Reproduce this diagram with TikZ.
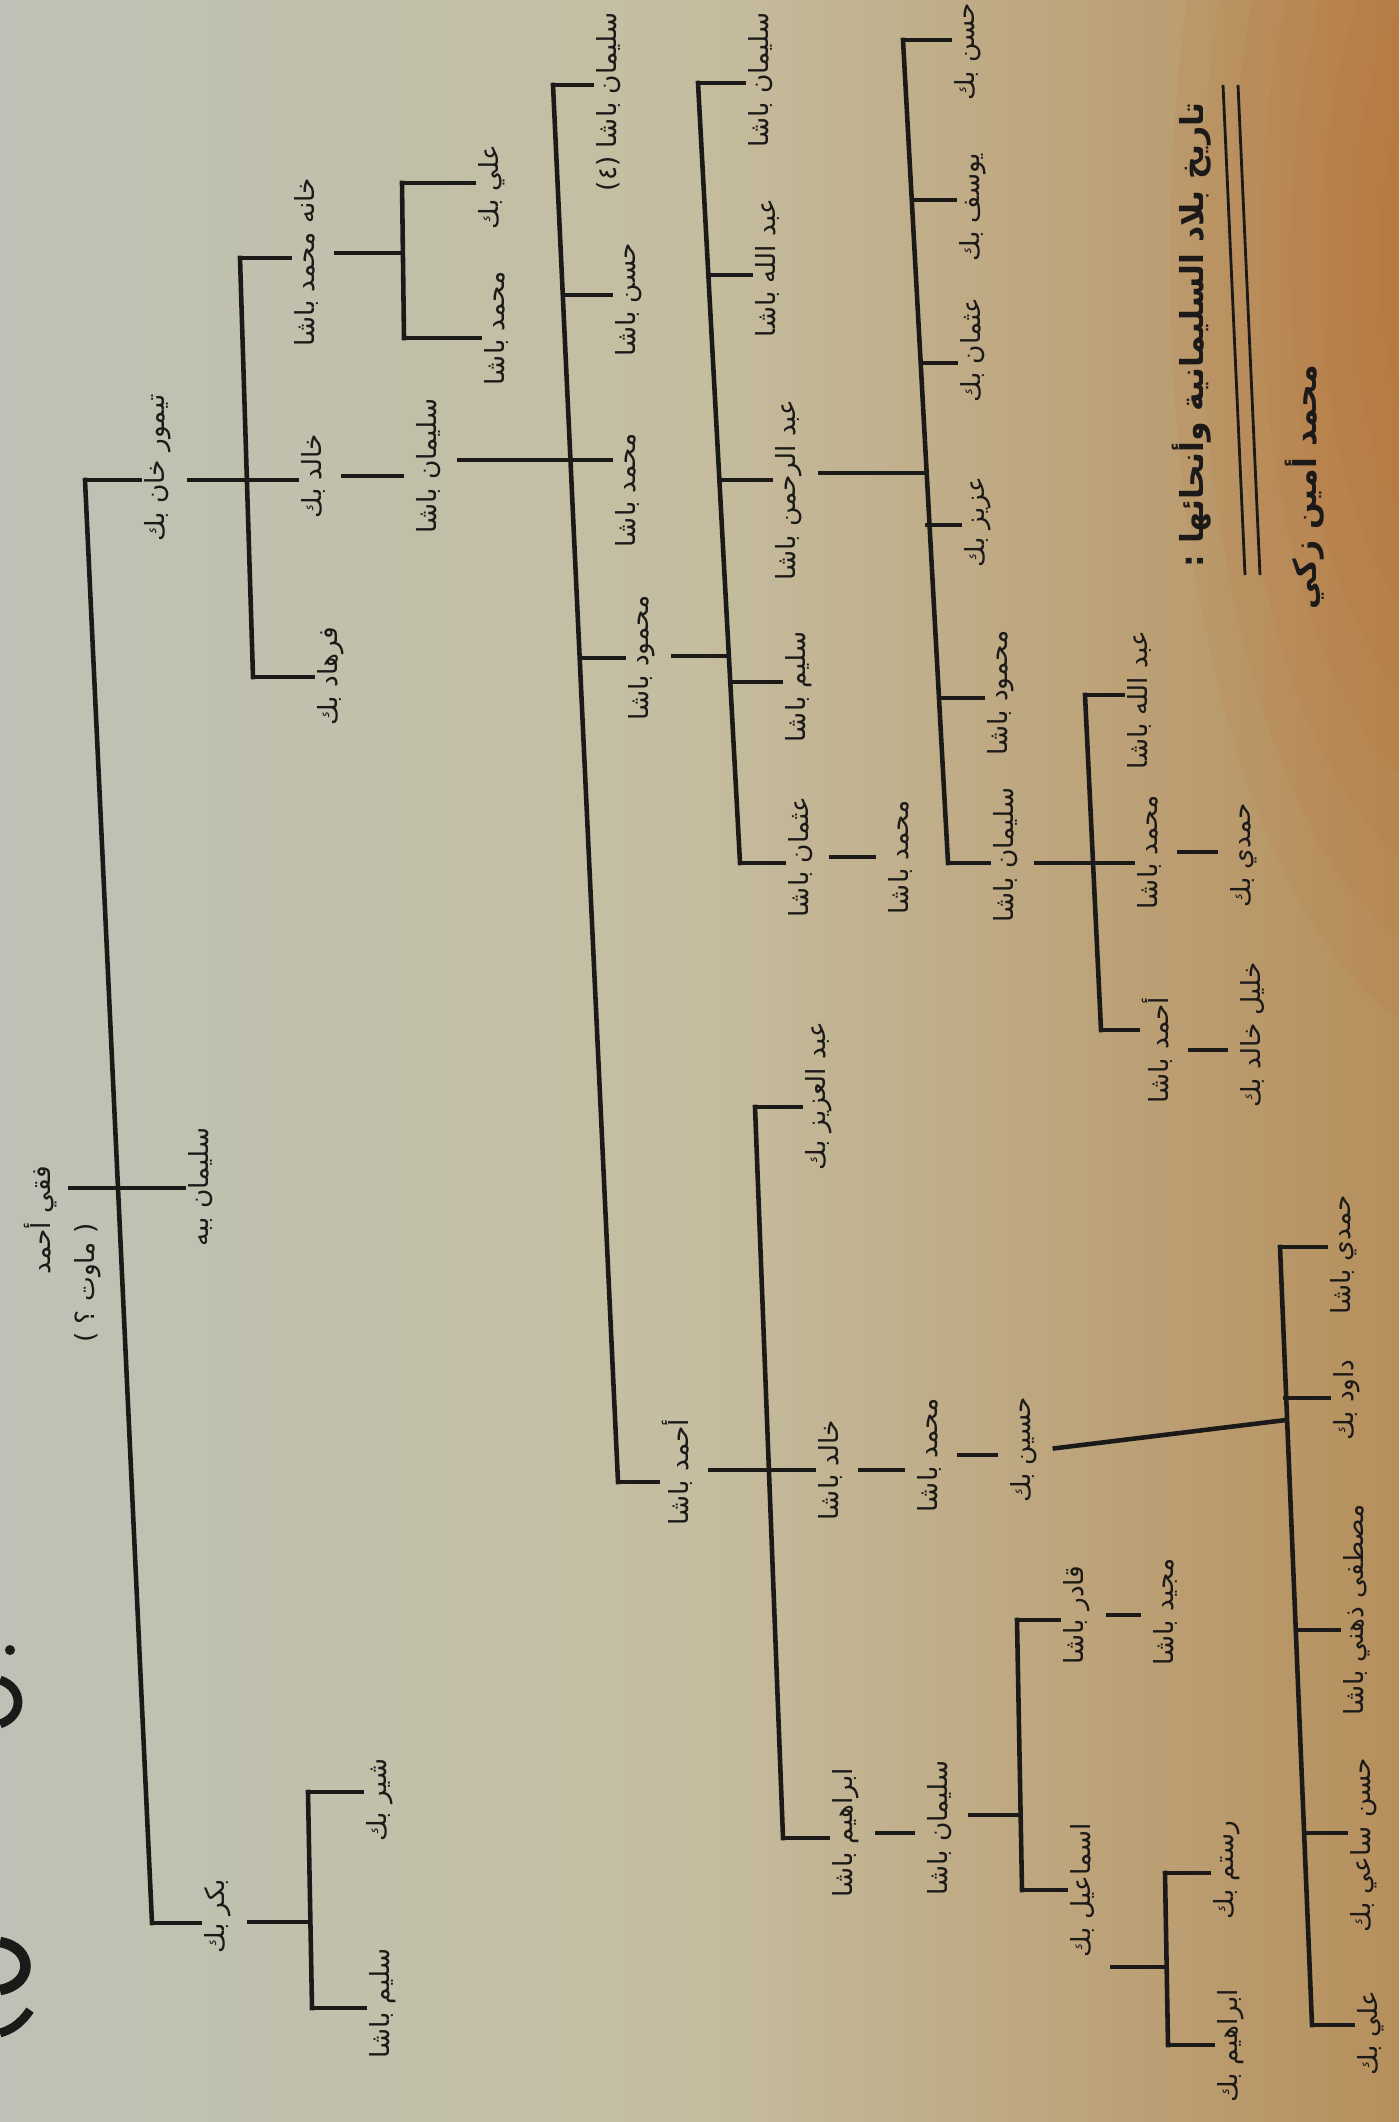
\documentclass[tikz,border=0pt]{standalone}
\usepackage{fontspec}
\newfontfamily\arabicfont[Script=Arabic]{DejaVu Sans}
\TeXXeTstate=1
\definecolor{ink}{RGB}{28,26,24}
\definecolor{bgL}{RGB}{190,194,182}
\definecolor{bgM}{RGB}{197,189,160}
\definecolor{bgR}{RGB}{182,143,92}
\definecolor{warm}{RGB}{196,100,36}
\begin{document}
\begin{tikzpicture}[x=0.01cm,y=-0.01cm,
  ln/.style={line width=1.3pt,draw=ink,line cap=rect},
  up/.style={ln,shorten <=4pt},
  tick/.style={ln,shorten <=4pt,shorten >=3pt},
  nm/.style={rotate=90,anchor=north,inner sep=1pt,text=ink,font=\arabicfont\fontsize{7.5}{9}\selectfont},
  ttl/.style={rotate=90,inner sep=0pt,text=ink,font=\arabicfont\bfseries\fontsize{9}{11}\selectfont}]
\useasboundingbox (0,0) rectangle (1399,2122);
\clip (0,0) rectangle (1399,2122);
% paper
\shade[left color=bgL,right color=bgR,middle color=bgM] (0,0) rectangle (1399,2122);
\foreach \r in {30,60,...,300}
  \fill[warm,opacity=0.07] (1470,260) ellipse [x radius=\r, y radius=2.6*\r];
% partial heading glyphs at the left edge
\fill[ink] (10,1650) circle (5);
\draw[ink,line width=2.5pt] (0,1680) .. controls (24,1688) and (24,1716) .. (0,1724);
\draw[ink,line width=3pt] (0,1942) .. controls (34,1948) and (34,1984) .. (0,1990);
\draw[ink,line width=2.5pt] (30,2010) .. controls (20,2025) and (10,2030) .. (0,2033);

% ---------- names ----------
\node[nm] (root) at (20,1220) {\beginR فقي أحمد\endR};
\node[nm] (mawat) at (70,1283) {\beginR ( ماوت ؟ )\endR};
\node[nm] (timur) at (140,468) {\beginR تيمور خان بك\endR};
\node[nm] (sulbeb) at (184,1187) {\beginR سليمان ببه\endR};
\node[nm] (bakr) at (200,1916) {\beginR بكر بك\endR};
\node[nm] (shir) at (362,1800) {\beginR شير بك\endR};
\node[nm] (salim) at (365,2003) {\beginR سليم باشا\endR};
\node[nm] (khanah) at (290,262) {\beginR خانه محمد باشا\endR};
\node[nm] (khalid) at (297,476) {\beginR خالد بك\endR};
\node[nm] (farhad) at (313,676) {\beginR فرهاد بك\endR};
\node[nm] (ali1) at (474,187) {\beginR علي بك\endR};
\node[nm] (muh1) at (480,328) {\beginR محمد باشا\endR};
\node[nm] (sul1) at (412,466) {\beginR سليمان باشا\endR};
\node[nm] (sul4) at (592,102) {\beginR سليمان باشا (٤)\endR};
\node[nm] (hasan1) at (611,300) {\beginR حسن باشا\endR};
\node[nm] (muh2) at (611,490) {\beginR محمد باشا\endR};
\node[nm] (mahmud) at (624,658) {\beginR محمود باشا\endR};
\node[nm] (ahmad1) at (658,1472) {\beginR أحمد باشا\endR};
\node[nm] (sul5) at (744,80) {\beginR سليمان باشا\endR};
\node[nm] (abdallah1) at (751,268) {\beginR عبد الله باشا\endR};
\node[nm] (abdrahman) at (771,490) {\beginR عبد الرحمن باشا\endR};
\node[nm] (salim2) at (781,687) {\beginR سليم باشا\endR};
\node[nm] (uthman1) at (784,857) {\beginR عثمان باشا\endR};
\node[nm] (muh3) at (884,857) {\beginR محمد باشا\endR};
\node[nm] (hasan2) at (950,52) {\beginR حسن بك\endR};
\node[nm] (yusuf) at (955,207) {\beginR يوسف بك\endR};
\node[nm] (uthman2) at (956,350) {\beginR عثمان بك\endR};
\node[nm] (aziz) at (960,522) {\beginR عزيز بك\endR};
\node[nm] (mahmud2) at (983,693) {\beginR محمود باشا\endR};
\node[nm] (sul6) at (989,855) {\beginR سليمان باشا\endR};
\node[nm] (abdallah2) at (1123,700) {\beginR عبد الله باشا\endR};
\node[nm] (muh4) at (1133,852) {\beginR محمد باشا\endR};
\node[nm] (hamdi1) at (1226,855) {\beginR حمدي بك\endR};
\node[nm] (ahmad2) at (1138,1050) {\beginR أحمد باشا\endR};
\node[nm] (khalil) at (1236,1035) {\beginR خليل خالد بك\endR};
\node[nm] (abdaziz) at (801,1096) {\beginR عبد العزيز بك\endR};
\node[nm] (khalid2) at (814,1470) {\beginR خالد باشا\endR};
\node[nm] (ibrahim1) at (828,1833) {\beginR ابراهيم باشا\endR};
\node[nm] (muh5) at (913,1455) {\beginR محمد باشا\endR};
\node[nm] (husain) at (1006,1450) {\beginR حسين بك\endR};
\node[nm] (sul7) at (923,1828) {\beginR سليمان باشا\endR};
\node[nm] (qadir) at (1059,1615) {\beginR قادر باشا\endR};
\node[nm] (majid) at (1149,1612) {\beginR مجيد باشا\endR};
\node[nm] (ismail) at (1066,1890) {\beginR اسماعيل بك\endR};
\node[nm] (rustam) at (1209,1870) {\beginR رستم بك\endR};
\node[nm] (ibrahim2) at (1213,2046) {\beginR ابراهيم بك\endR};
\node[nm] (hamdi2) at (1326,1255) {\beginR حمدي باشا\endR};
\node[nm] (dawud) at (1329,1400) {\beginR داود بك\endR};
\node[nm] (mustafa) at (1339,1610) {\beginR مصطفى ذهني باشا\endR};
\node[nm] (hasansai) at (1346,1845) {\beginR حسن ساعي بك\endR};
\node[nm] (ali2) at (1353,2033) {\beginR علي بك\endR};
% title and author
\node[ttl] (title) at (1192,335) {\beginR تاريخ بلاد السليمانية وأنحائها :\endR};
\node[ttl] (author) at (1305,487) {\beginR محمد أمين زكي\endR};
\coordinate (u1a) at (1223,85); \coordinate (u1b) at (1245,575);
\coordinate (u2a) at (1238,85); \coordinate (u2b) at (1260,575);
\draw[ink,line width=0.8pt] (u1a) -- (u1b);
\draw[ink,line width=0.8pt] (u2a) -- (u2b);

% ---------- bar points ----------
\coordinate (R1) at (85,480);  \coordinate (R2) at (118,1188); \coordinate (R3) at (152,1923);
\coordinate (K1) at (308,1792); \coordinate (K2) at (310,1922); \coordinate (K3) at (312,2008);
\coordinate (B1) at (240,258); \coordinate (B2) at (247,480); \coordinate (B3) at (253,677);
\coordinate (A1) at (402,183); \coordinate (A2) at (402,253); \coordinate (A3) at (404,338);
\coordinate (C1) at (553,85); \coordinate (C2) at (563,295); \coordinate (C3) at (570,460);
\coordinate (C4) at (580,658); \coordinate (C5) at (618,1482);
\coordinate (D1) at (698,83); \coordinate (D2) at (708,275); \coordinate (D3) at (719,480);
\coordinate (D4) at (729,656); \coordinate (D5) at (730,682); \coordinate (D6) at (740,863);
\coordinate (E1) at (903,40); \coordinate (E2) at (912,200); \coordinate (E3) at (921,363);
\coordinate (E4) at (924,473); \coordinate (E5) at (927,525); \coordinate (E6) at (939,698);
\coordinate (E7) at (948,863);
\coordinate (J1) at (1085,695); \coordinate (J2) at (1093,863); \coordinate (J3) at (1101,1030);
\coordinate (F1) at (755,1107); \coordinate (F2) at (769,1470); \coordinate (F3) at (783,1838);
\coordinate (G1) at (1017,1620); \coordinate (G2) at (1019,1815); \coordinate (G3) at (1022,1890);
\coordinate (H1) at (1165,1873); \coordinate (H2) at (1166,1967); \coordinate (H3) at (1168,2045);
\coordinate (I1) at (1280,1247); \coordinate (I2) at (1285,1398); \coordinate (I3) at (1286,1420);
\coordinate (I4) at (1298,1630); \coordinate (I5) at (1305,1833); \coordinate (I6) at (1312,2025);

% ---------- bars ----------
\draw[ln] (R1) -- (R2) -- (R3);
\draw[ln] (K1) -- (K3);
\draw[ln] (B1) -- (B3);
\draw[ln] (A1) -- (A3);
\draw[ln] (C1) -- (C5);
\draw[ln] (D1) -- (D6);
\draw[ln] (E1) -- (E7);
\draw[ln] (J1) -- (J3);
\draw[ln] (F1) -- (F3);
\draw[ln] (G1) -- (G3);
\draw[ln] (H1) -- (H3);
\draw[ln] (I1) -- (I6);

% ---------- links ----------
% root
\draw[ln] (mawat.north |- R2) -- (R2);
\draw[ln] (R1) -- (timur.north |- R1);
\draw[ln] (R2) -- (sulbeb.north |- R2);
\draw[ln] (R3) -- (bakr.north |- R3);
% bakr
\draw[up] (bakr.south |- K2) -- (K2);
\draw[ln] (K1) -- (shir.north |- K1);
\draw[ln] (K3) -- (salim.north |- K3);
% timur
\draw[up] (timur.south |- B2) -- (B2);
\draw[ln] (B1) -- (khanah.north |- B1);
\draw[ln] (B2) -- (khalid.north |- B2);
\draw[ln] (B3) -- (farhad.north |- B3);
% khanah
\draw[up] (khanah.south |- A2) -- (A2);
\draw[ln] (A1) -- (ali1.north |- A1);
\draw[ln] (A3) -- (muh1.north |- A3);
% khalid -> sul1
\draw[tick] (khalid.south) -- (sul1.north |- khalid.south);
% sul1
\draw[up] (sul1.south |- C3) -- (C3);
\draw[ln] (C1) -- (sul4.north |- C1);
\draw[ln] (C2) -- (hasan1.north |- C2);
\draw[ln] (C3) -- (muh2.north |- C3);
\draw[ln] (C4) -- (mahmud.north |- C4);
\draw[ln] (C5) -- (ahmad1.north |- C5);
% mahmud
\draw[up] (mahmud.south |- D4) -- (D4);
\draw[ln] (D1) -- (sul5.north |- D1);
\draw[ln] (D2) -- (abdallah1.north |- D2);
\draw[ln] (D3) -- (abdrahman.north |- D3);
\draw[ln] (D5) -- (salim2.north |- D5);
\draw[ln] (D6) -- (uthman1.north |- D6);
\draw[tick] (uthman1.south) -- (muh3.north |- uthman1.south);
% abdrahman
\draw[up] (abdrahman.south |- E4) -- (E4);
\draw[ln] (E1) -- (hasan2.north |- E1);
\draw[ln] (E2) -- (yusuf.north |- E2);
\draw[ln] (E3) -- (uthman2.north |- E3);
\draw[ln] (E5) -- (aziz.north |- E5);
\draw[ln] (E6) -- (mahmud2.north |- E6);
\draw[ln] (E7) -- (sul6.north |- E7);
% sul6
\draw[up] (sul6.south |- J2) -- (J2);
\draw[ln] (J1) -- (abdallah2.north |- J1);
\draw[ln] (J2) -- (muh4.north |- J2);
\draw[ln] (J3) -- (ahmad2.north |- J3);
\draw[tick] (muh4.south) -- (hamdi1.north |- muh4.south);
\draw[tick] (ahmad2.south) -- (khalil.north |- ahmad2.south);
% ahmad1
\draw[up] (ahmad1.south |- F2) -- (F2);
\draw[ln] (F1) -- (abdaziz.north |- F1);
\draw[ln] (F2) -- (khalid2.north |- F2);
\draw[ln] (F3) -- (ibrahim1.north |- F3);
\draw[tick] (khalid2.south) -- (muh5.north |- khalid2.south);
\draw[tick] (muh5.south) -- (husain.north |- muh5.south);
% husain
\draw[up] (husain.south) -- (I3);
\draw[ln] (I1) -- (hamdi2.north |- I1);
\draw[ln] (I2) -- (dawud.north |- I2);
\draw[ln] (I4) -- (mustafa.north |- I4);
\draw[ln] (I5) -- (hasansai.north |- I5);
\draw[ln] (I6) -- (ali2.north |- I6);
% ibrahim1 -> sul7
\draw[tick] (ibrahim1.south) -- (sul7.north |- ibrahim1.south);
\draw[up] (sul7.south |- G2) -- (G2);
\draw[ln] (G1) -- (qadir.north |- G1);
\draw[ln] (G3) -- (ismail.north |- G3);
\draw[tick] (qadir.south) -- (majid.north |- qadir.south);
% ismail
\draw[up] (ismail.south |- H2) -- (H2);
\draw[ln] (H1) -- (rustam.north |- H1);
\draw[ln] (H3) -- (ibrahim2.north |- H3);
\end{tikzpicture}
\end{document}
